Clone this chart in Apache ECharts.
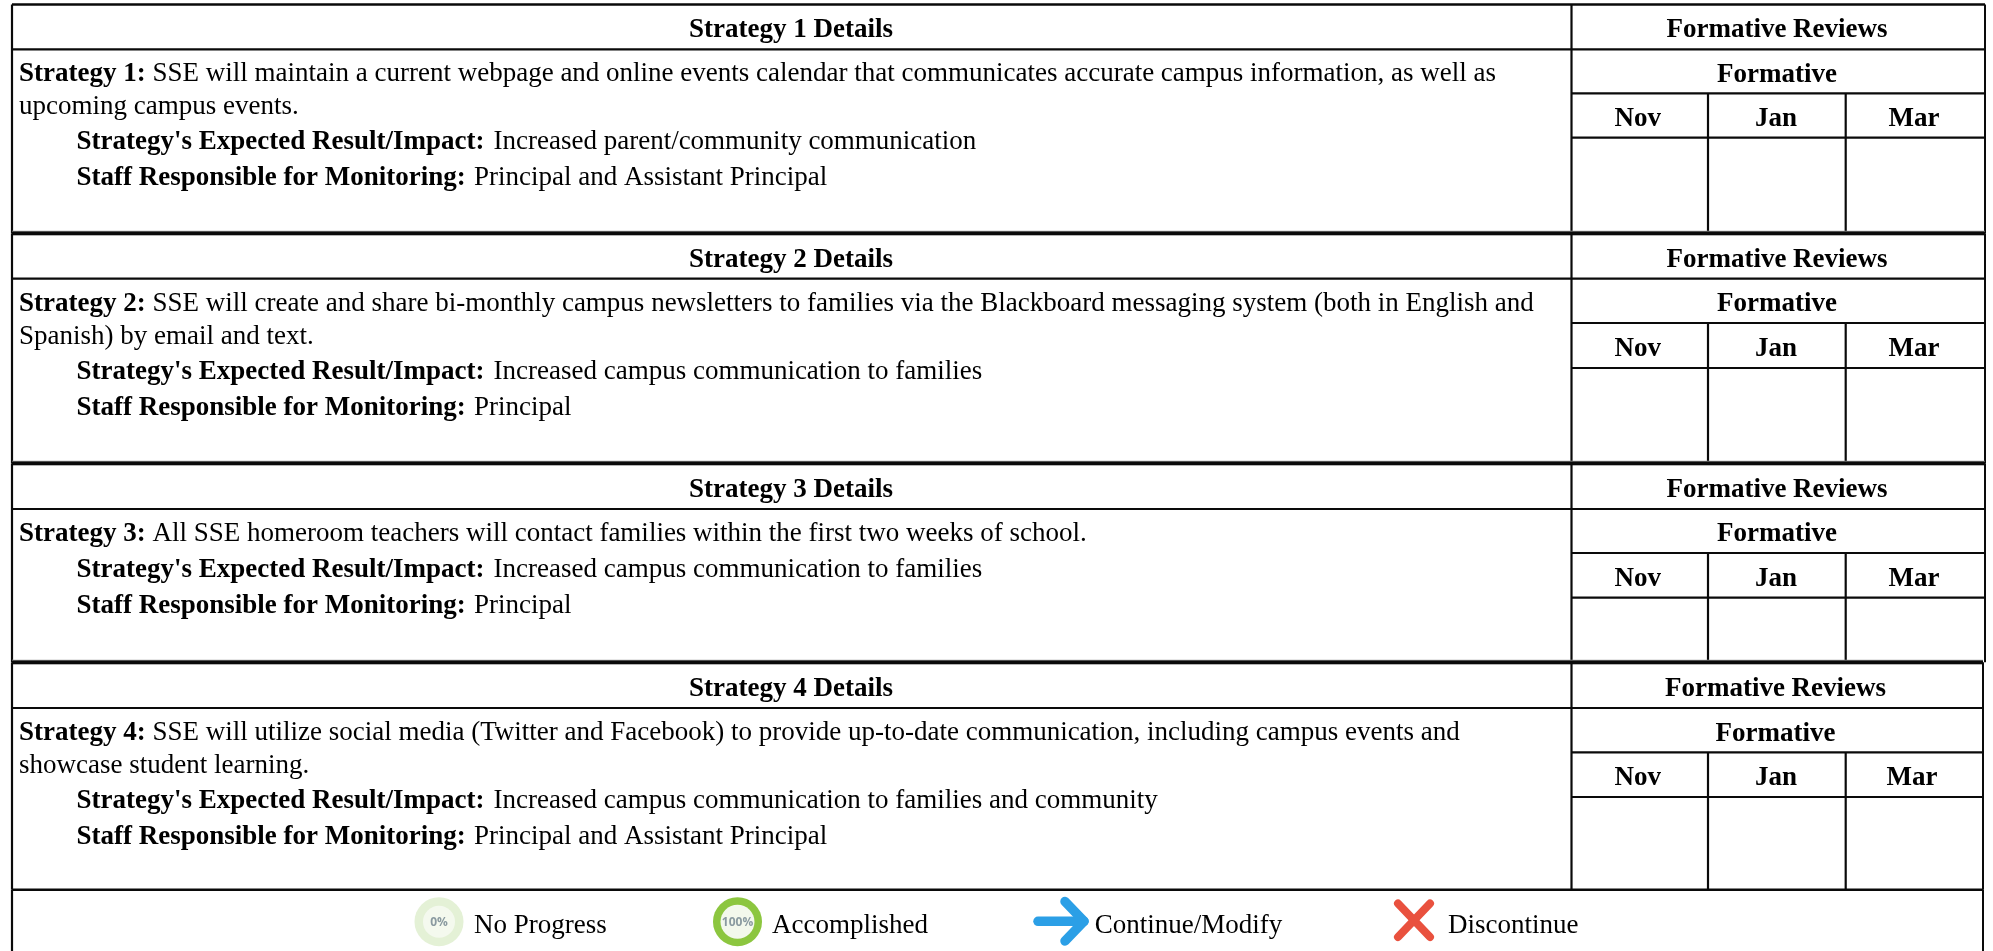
<!DOCTYPE html>
<html><head><meta charset="utf-8">
<style>html,body{margin:0;padding:0;background:#fff}#c{width:1993px;height:951px}</style>
<script src="https://cdn.jsdelivr.net/npm/echarts@6/dist/echarts.min.js"></script></head>
<body><div id="c"></div>
<script>
// ---- content ----
const strategyHeaders = ["Strategy 1 Details","Strategy 2 Details","Strategy 3 Details","Strategy 4 Details"];
const strategyLabels = ["Strategy 1:","Strategy 2:","Strategy 3:","Strategy 4:"];
const strategyFirstLines = [
  "SSE will maintain a current webpage and online events calendar that communicates accurate campus information, as well as",
  "SSE will create and share bi-monthly campus newsletters to families via the Blackboard messaging system (both in English and",
  "All SSE homeroom teachers will contact families within the first two weeks of school.",
  "SSE will utilize social media (Twitter and Facebook) to provide up-to-date communication, including campus events and"];
const strategySecondLines = ["upcoming campus events.","Spanish) by email and text.","","showcase student learning."];
const expectedLabel = "Strategy's Expected Result/Impact:";
const expectedValues = ["Increased parent/community communication","Increased campus communication to families","Increased campus communication to families","Increased campus communication to families and community"];
const staffLabel = "Staff Responsible for Monitoring:";
const staffValues = ["Principal and Assistant Principal","Principal","Principal","Principal and Assistant Principal"];
const reviewsTitle = "Formative Reviews";
const formativeTitle = "Formative";
const months = ["Nov","Jan","Mar"];
const legendLabels = ["No Progress","Accomplished","Continue/Modify","Discontinue"];
const iconLabels = ["0%","100%"];

// ---- layout ----
const W=1993,H=951, LEFT=12, COL=1571.5, FS=27, SERIF='"Liberation Serif"';
const sec=[
 {top:4.5, head:49.3, sub:93.3, mon:137.7, bot:233.3, right:1985, colX:[1708,1845.7], cx:1777, mx:[1637.7,1776,1914]},
 {top:233.3,head:278.7,sub:323,mon:368,bot:463.3, right:1985, colX:[1708,1845.7], cx:1777, mx:[1637.7,1776,1914]},
 {top:463.3,head:509,sub:553,mon:597.7,bot:662.3, right:1985, colX:[1708,1845.7], cx:1777, mx:[1637.7,1776,1914]},
 {top:662.3,head:708,sub:752.3,mon:797,bot:889.7, right:1983, colX:[1708,1845.7], cx:1775.5, mx:[1637.7,1776,1912]}
];
const segs=[], texts=[];
function L(x1,y1,x2,y2,w,c){segs.push([x1,y1,x2,y2,w,c||'#0a0a0a']);}
function T(x,base,str,bold,align,fs){if(str)texts.push({v:[x,base],str,bold,align:align||'left',fs:fs||FS});}
sec.forEach((s,i)=>{
  if(i)L(LEFT,s.top,s.right,s.top,5,'#9a9a9a');
  L(LEFT,s.top,s.right,s.top,i?3.4:2.4);
  L(LEFT,s.head,s.right,s.head,2.2);
  L(COL,s.sub,s.right,s.sub,2.2);
  L(COL,s.mon,s.right,s.mon,2.2);
  L(COL,s.top,COL,s.bot,2.2);
  L(s.right,s.top,s.right,s.bot,2);
  L(LEFT,s.top,LEFT,s.bot,2.2);
  s.colX.forEach(x=>L(x,s.sub,x,s.bot,2.2));
  const b=s.head; // baselines are relative to the header rule
  T(791,b-13,strategyHeaders[i],true,'center');
  T(s.cx,b-13,reviewsTitle,true,'center');
  T(s.cx,s.sub-12.6,formativeTitle,true,'center');
  months.forEach((m,k)=>T(s.mx[k],s.mon-12.7,m,true,'center'));
  T(19,b+31,strategyLabels[i],true);
  T(152.5,b+31,strategyFirstLines[i]);
  T(19,b+64,strategySecondLines[i]);
  const e=strategySecondLines[i]?b+99:b+67;
  T(76.5,e,expectedLabel,true); T(493.5,e,expectedValues[i]);
  T(76.5,e+36,staffLabel,true); T(474,e+36,staffValues[i]);
});
L(LEFT,889.7,1983,889.7,2.4);
L(LEFT,889.7,LEFT,951,2.2);
L(1983,889.7,1983,951,2);
T(474,932,legendLabels[0]); T(772,932,legendLabels[1]); T(1094.7,932,legendLabels[2]); T(1448,932,legendLabels[3]);

const rings=[{v:[439,921.7],ro:24.5,ri:16,ring:'#E4F1D6',core:'#F4F9EE',label:iconLabels[0]},
             {v:[737.5,921.7],ro:24.5,ri:17,ring:'#8CC63F',core:'#F3F8EC',label:iconLabels[1]}];
const arrowPts=[[1038,921.3],[1084,921.3],[1065,901.5],[1065,941]];
const crossPts=[[1398,903.5],[1430,937],[1430,903.5],[1398,937]];

const chart=echarts.init(document.getElementById('c'),null,{renderer:'canvas'});
chart.setOption({
  animation:false,backgroundColor:'#fff',
  grid:{left:0,right:0,top:0,bottom:0},
  xAxis:{type:'value',min:0,max:W,show:false},
  yAxis:{type:'value',min:0,max:H,inverse:true,show:false},
  series:[
   {type:'custom',coordinateSystem:'cartesian2d',clip:false,silent:true,
    data:segs.map(s=>s.slice(0,2)),encode:{x:0,y:1},
    renderItem(p,api){const s=segs[p.dataIndex];const a=api.coord([s[0],s[1]]),b=api.coord([s[2],s[3]]);
      return {type:'line',shape:{x1:a[0],y1:a[1],x2:b[0],y2:b[1]},style:{stroke:s[5],lineWidth:s[4],fill:null}};}},
   {type:'custom',coordinateSystem:'cartesian2d',clip:false,silent:true,
    data:rings.map(r=>r.v),encode:{x:0,y:1},
    renderItem(p,api){const r=rings[p.dataIndex];const c=api.coord(r.v);
      return {type:'group',children:[
        {type:'circle',shape:{cx:c[0],cy:c[1],r:r.ro},style:{fill:r.ring}},
        {type:'circle',shape:{cx:c[0],cy:c[1],r:r.ri},style:{fill:r.core}},
        {type:'text',x:c[0],y:c[1]+1,style:{text:r.label,font:'bold 12px "Open Sans"',fill:'#8A9AA0',align:'center',verticalAlign:'middle'}}
      ]};}},
   {type:'custom',coordinateSystem:'cartesian2d',clip:false,silent:true,
    data:[arrowPts[0]],encode:{x:0,y:1},
    renderItem(p,api){const q=arrowPts.map(a=>api.coord(a));
      return {type:'group',children:[
        {type:'line',shape:{x1:q[0][0],y1:q[0][1],x2:q[1][0],y2:q[1][1]},style:{stroke:'#2B9FE6',lineWidth:9.5,lineCap:'round'}},
        {type:'polyline',shape:{points:[q[2],q[1],q[3]]},style:{stroke:'#2B9FE6',lineWidth:9.5,lineCap:'round',lineJoin:'round',fill:null}}
      ]};}},
   {type:'custom',coordinateSystem:'cartesian2d',clip:false,silent:true,
    data:[crossPts[0]],encode:{x:0,y:1},
    renderItem(p,api){const q=crossPts.map(a=>api.coord(a));
      return {type:'group',children:[
        {type:'line',shape:{x1:q[0][0],y1:q[0][1],x2:q[1][0],y2:q[1][1]},style:{stroke:'#E9513E',lineWidth:8,lineCap:'round'}},
        {type:'line',shape:{x1:q[2][0],y1:q[2][1],x2:q[3][0],y2:q[3][1]},style:{stroke:'#E9513E',lineWidth:8,lineCap:'round'}}
      ]};}},
   {type:'custom',coordinateSystem:'cartesian2d',clip:false,silent:true,
    data:texts.map(t=>t.v),encode:{x:0,y:1},
    renderItem(p,api){const t=texts[p.dataIndex];const c=api.coord(t.v);
      return {type:'text',x:c[0],y:c[1]-0.3375*t.fs+3,style:{text:t.str,font:(t.bold?'bold ':'')+t.fs+'px '+SERIF,fill:'#000',align:t.align,verticalAlign:'middle'}};}}
  ]
});
</script></body></html>
